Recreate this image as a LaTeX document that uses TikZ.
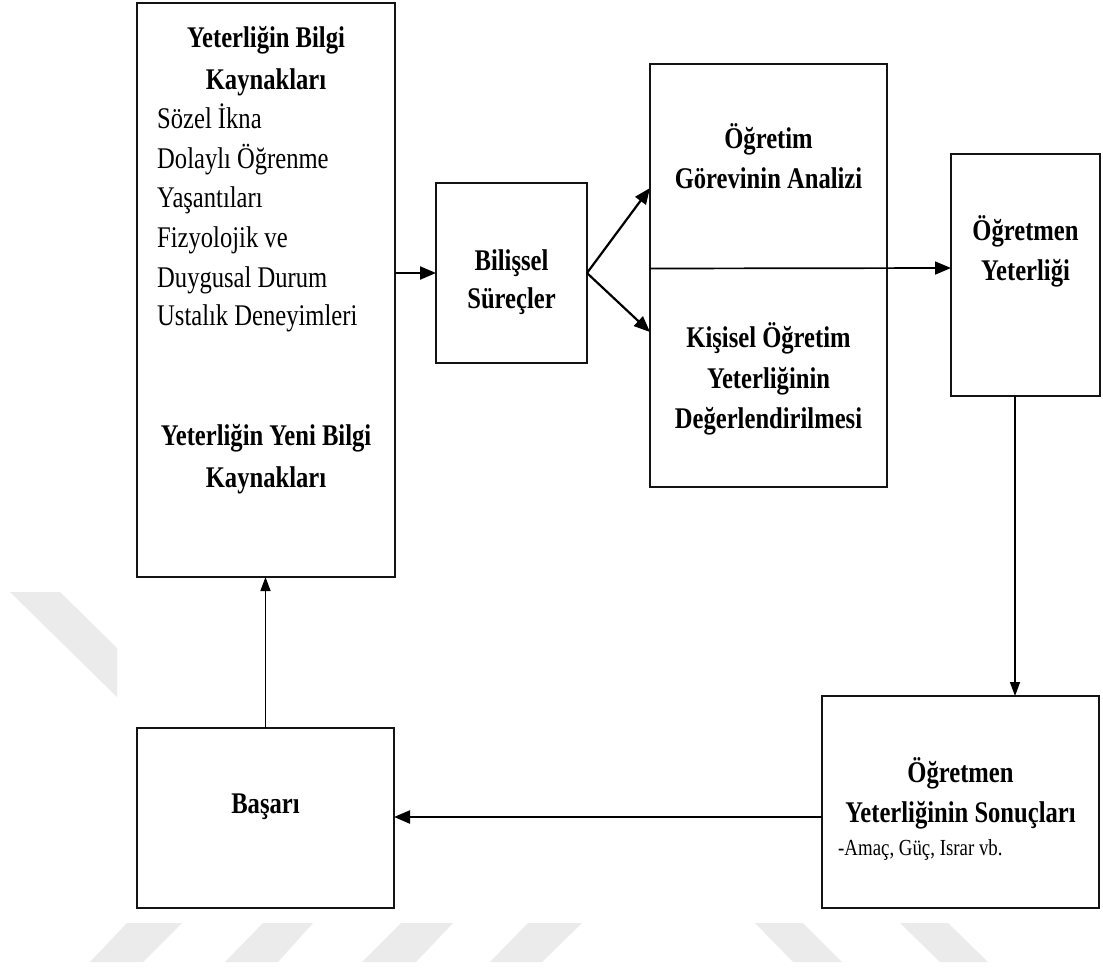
\documentclass[tikz,border=0pt]{standalone}
\usepackage{fontspec}
\setmainfont{Liberation Serif}[FakeStretch=0.82]
\usetikzlibrary{arrows.meta}
\begin{document}
\begin{tikzpicture}[x=1pt,y=-1pt,
  box/.style={draw=black!92, line width=2.6pt, inner sep=0pt, outer sep=0pt},
  hd/.style={anchor=base, inner sep=0pt, font=\fontsize{30}{36}\selectfont\bfseries},
  tx/.style={anchor=base west, inner sep=0pt, font=\fontsize{30}{36}\selectfont},
  sm/.style={anchor=base west, inner sep=0pt, font=\fontsize{23}{28}\selectfont},
  arr/.style={-{Triangle[length=16pt,width=13pt]}, line width=2.2pt},
  thinarr/.style={-{Triangle[length=14pt,width=10pt]}, line width=1.4pt},
  wm/.style={fill=black!8, draw=none}]
\useasboundingbox (0,0) rectangle (1103,967);
\fill[white] (0,0) rectangle (1103,967);
% watermark
\fill[wm] (10,592) -- (60,592) -- (117,648) -- (117,697) -- cycle;
\fill[wm] (90,962) -- (143,962) -- (182,923) -- (127,923) -- cycle;
\fill[wm] (225,962) -- (278,962) -- (313,923) -- (263,923) -- cycle;
\fill[wm] (362,962) -- (416,962) -- (453,923) -- (401,923) -- cycle;
\fill[wm] (490,962) -- (542,962) -- (582,923) -- (528,923) -- cycle;
\fill[wm] (755,923) -- (803,923) -- (842,962) -- (793,962) -- cycle;
\fill[wm] (900,923) -- (948,923) -- (988,962) -- (940,962) -- cycle;
% boxes
\node[box, minimum width=258pt, minimum height=574pt] (A) at (266,290) {};
\node[box, minimum width=151pt, minimum height=180pt] (B) at (511.5,273) {};
\node[box, minimum width=237pt, minimum height=423pt] (C) at (768.5,275.5) {};
\node[box, minimum width=149pt, minimum height=242pt] (D) at (1025.5,275) {};
\node[box, minimum width=277pt, minimum height=212pt] (E) at (960.5,802) {};
\node[box, minimum width=257pt, minimum height=180pt] (F) at (265.5,818) {};
% texts box A
\node[hd] (a1) at (266,47) {Yeterliğin Bilgi};
\node[hd] (a2) at (266,89) {Kaynakları};
\node[tx] (a3) at (157,128) {Sözel İkna};
\node[tx] (a4) at (157,168) {Dolaylı Öğrenme};
\node[tx] (a5) at (157,207) {Yaşantıları};
\node[tx] (a6) at (157,247) {Fizyolojik ve};
\node[tx] (a7) at (157,287) {Duygusal Durum};
\node[tx] (a8) at (157,325) {Ustalık Deneyimleri};
\node[hd] (a9) at (266,445) {Yeterliğin Yeni Bilgi};
\node[hd] (a10) at (266,487) {Kaynakları};
% box B
\node[hd] (b1) at (511.5,270) {Bilişsel};
\node[hd] (b2) at (511.5,308) {Süreçler};
% box C
\node[hd] (c1) at (768.5,148) {Öğretim};
\node[hd] (c2) at (768.5,188) {Görevinin Analizi};
\node[hd] (c3) at (768.5,347) {Kişisel Öğretim};
\node[hd] (c4) at (768.5,388) {Yeterliğinin};
\node[hd] (c5) at (768.5,428) {Değerlendirilmesi};
% box D
\node[hd] (d1) at (1025.5,240) {Öğretmen};
\node[hd] (d2) at (1025.5,280) {Yeterliği};
% box E
\node[hd] (e1) at (960.5,782) {Öğretmen};
\node[hd] (e2) at (960.5,822) {Yeterliğinin Sonuçları};
\node[sm] (e3) at (838,855) {-Amaç, Güç, Israr vb.};
% box F
\node[hd] (f1) at (265.5,813) {Başarı};
% connectors
\draw[arr] (B.west -| A.east) -- (B.west);
\draw[arr] (B.east) -- ([yshift=87.5pt]C.west);
\draw[arr] (B.east) -- ([yshift=-56.5pt]C.west);
\draw[arr, line width=1.7pt] ([yshift=7pt]C.west) -- ([yshift=7pt]D.west);
\draw[thinarr] ([xshift=-10.5pt]D.south) -- ([xshift=-10.5pt]D.south |- E.north);
\draw[arr] ([yshift=-15pt]E.west) -- ([yshift=-15pt]E.west -| F.east);
\draw[thinarr] (F.north) -- (F.north |- A.south);
\end{tikzpicture}
\end{document}
